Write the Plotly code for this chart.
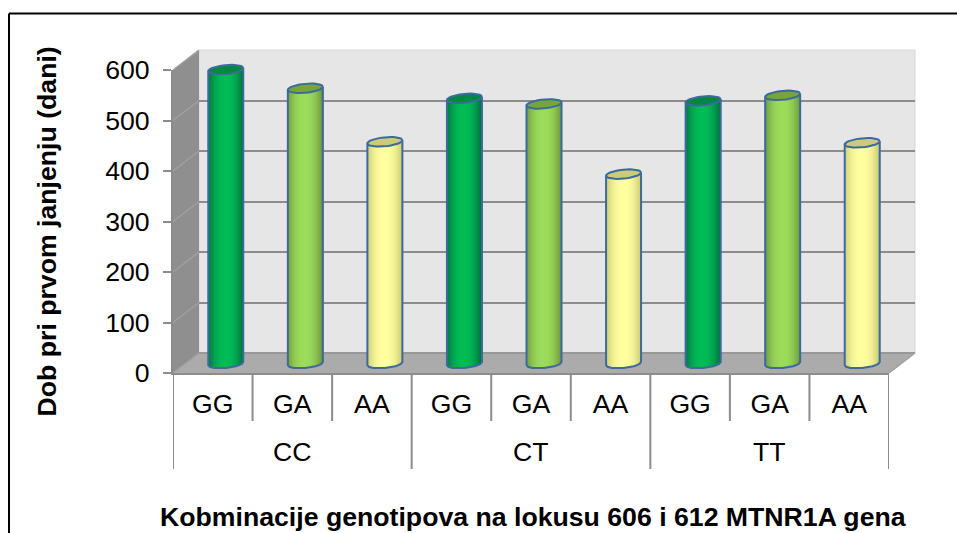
import math
import plotly.graph_objects as go

# ---- data ----
allele_606 = ["CC", "CT", "TT"]
allele_612 = ["GG", "GA", "AA"]
values_gg = [582, 525, 520]
values_ga = [545, 514, 531]
values_aa = [439, 375, 437]
y_ticks = [0, 100, 200, 300, 400, 500, 600]
x_title = "Kobminacije genotipova na lokusu 606 i 612 MTNR1A gena"
y_title = "Dob pri prvom janjenju (dani)"

# ---- styling / layout ----
W, H = 957, 533
FONT = "Liberation Sans, Arial, sans-serif"
FS = 26.67
GREY = "#8C8C8C"
BLUE = "#3C6A9C"
STYLES = [
    ("#00703E", "#00BC55", "#008A40"),
    ("#6E963E", "#9CDC5A", "#76A53A"),
    ("#C8C878", "#FFFF9F", "#CBCB78"),
]
px = lambda x: x / W
py = lambda y: 1 - y / H

FRONT_L, FRONT_R, FRONT_0 = 173, 889, 373
PX_PER_100 = 50.5
DX_BACK, DY_BACK = 26, -20
DX_MID, DY_MID = 13, -9.5
FRONT_TOP = FRONT_0 - 6 * PX_PER_100
CAT_PX = (FRONT_R - FRONT_L) / 9
RAD_PX = 17.5
ELL_H = 4.5
ELL_T = 1.6
ux = 1 / CAT_PX
uy = 100 / PX_PER_100


def hexmix(a, b, s):
    ca = [int(a[i:i + 2], 16) for i in (1, 3, 5)]
    cb = [int(b[i:i + 2], 16) for i in (1, 3, 5)]
    return "#%02x%02x%02x" % tuple(round(p + (q - p) * s) for p, q in zip(ca, cb))


fig = go.Figure()

n_groups, n_sub = len(allele_606), len(allele_612)
series_vals = [values_gg, values_ga, values_aa]
N_STRIPS = 35
strip_w = 2 * RAD_PX / N_STRIPS * ux

for s, vals in enumerate(series_vals):
    xs = [g * n_sub + s for g in range(n_groups)]
    edge, mid, top = STYLES[s]
    for k in range(N_STRIPS):
        t0 = -1 + 2 * k / N_STRIPS
        t = t0 + 1 / N_STRIPS
        shade = 1 - abs(t) ** 2.2
        drop = ELL_H * math.sqrt(max(0, 1 - t * t)) - ELL_T * t
        base = -drop * uy
        fig.add_trace(go.Bar(
            x=xs,
            y=[v + ELL_T * t * uy - base for v in vals],
            base=base,
            width=strip_w * 1.6,
            offset=t0 * RAD_PX * ux,
            marker=dict(color=hexmix(edge, mid, shade), line=dict(width=0)),
            xaxis="x2", yaxis="y2", showlegend=False, hoverinfo="skip",
        ))
    ox, oy, ex, ey = [], [], [], []
    for x0, v in zip(xs, vals):
        arc = [-1 + 2 * i / 24 for i in range(25)]
        ox += [x0 - RAD_PX * ux] + [x0 + t * RAD_PX * ux for t in arc] + [x0 + RAD_PX * ux, None]
        oy += [v - ELL_T * uy] + [-(ELL_H * math.sqrt(max(0, 1 - t * t)) - ELL_T * t) * uy for t in arc] + [v + ELL_T * uy, None]
        for i in range(37):
            a = 2 * math.pi * i / 36
            ex.append(x0 + math.cos(a) * RAD_PX * ux)
            ey.append(v + (math.sin(a) * ELL_H + math.cos(a) * ELL_T) * uy)
        ex.append(None)
        ey.append(None)
    fig.add_trace(go.Scatter(x=ox, y=oy, mode="lines", line=dict(color=BLUE, width=2),
                             xaxis="x2", yaxis="y2", showlegend=False, hoverinfo="skip"))
    fig.add_trace(go.Scatter(x=ex, y=ey, mode="lines", fill="toself", fillcolor=top,
                             line=dict(color=BLUE, width=2),
                             xaxis="x2", yaxis="y2", showlegend=False, hoverinfo="skip"))

centers = list(range(n_groups * n_sub))
fig.add_trace(go.Scatter(x=centers, y=[0] * len(centers), mode="markers", marker=dict(opacity=0),
                         xaxis="x3", yaxis="y3", showlegend=False, hoverinfo="skip"))
fig.add_trace(go.Scatter(x=centers, y=[0] * len(centers), mode="markers", marker=dict(opacity=0),
                         xaxis="x", yaxis="y", showlegend=False, hoverinfo="skip"))


def poly(points, fill, layer="below", line=None, lw=0):
    path = "M" + " L".join(f"{px(a):.5f},{py(b):.5f}" for a, b in points) + " Z"
    return dict(type="path", xref="paper", yref="paper", path=path, fillcolor=fill,
                line=dict(width=lw, color=line or fill), layer=layer)


def seg(x0, y0, x1, y1, color=GREY, w=2, layer="below"):
    return dict(type="line", xref="paper", yref="paper", x0=px(x0), y0=py(y0), x1=px(x1), y1=py(y1),
                line=dict(color=color, width=w), layer=layer)


BL, BR = FRONT_L + DX_BACK, FRONT_R + DX_BACK
B0, BT = FRONT_0 + DY_BACK, FRONT_TOP + DY_BACK
shapes = [
    poly([(BL, BT), (BR, BT), (BR, B0), (BL, B0)], "#E6E6E6", line="#D9D9D9", lw=1),
    poly([(FRONT_L, FRONT_TOP), (BL, BT), (BL, B0), (FRONT_L, FRONT_0)], "#8F8F8F"),
    poly([(FRONT_L, FRONT_0), (BL, B0), (BR, B0), (FRONT_R, FRONT_0)], "#ABABAB"),
    seg(BL, B0, BR, B0, "#989898", 2),
    seg(BR, B0, FRONT_R, FRONT_0, "#A0A0A0", 1.5),
    seg(9, 13.5, W, 13.5, "#000000", 2),
    seg(9, 13.5, 9, H, "#000000", 2),
]
for tick in y_ticks:
    yy = FRONT_0 - tick / 100 * PX_PER_100
    shapes.append(seg(FRONT_L, yy, BL, yy + DY_BACK, "#A0A0A0", 1.5))

for i in range(n_groups * n_sub + 1):
    bottom = 469 if i % n_sub == 0 else 421
    shapes.append(dict(type="line", xref="x3", yref="paper", x0=i - 0.5, x1=i - 0.5,
                       y0=py(FRONT_0), y1=py(bottom), line=dict(color=GREY, width=2), layer="above"))

annotations = [
    dict(x=g * n_sub + (n_sub - 1) / 2, y=py(452), xref="x3", yref="paper", text=name, showarrow=False,
         font=dict(family=FONT, size=FS, color="#000000"), xanchor="center", yanchor="middle")
    for g, name in enumerate(allele_606)
]
annotations += [
    dict(x=px(533), y=py(517), xref="paper", yref="paper", text=f"<b>{x_title}</b>", showarrow=False,
         font=dict(family=FONT, size=FS, color="#000000"), xanchor="center", yanchor="middle"),
    dict(x=px(47), y=py(231.5), xref="paper", yref="paper", text=f"<b>{y_title}</b>", showarrow=False,
         textangle=-90, font=dict(family=FONT, size=FS, color="#000000"), xanchor="center", yanchor="middle"),
]

x_range = [-0.5, n_groups * n_sub - 0.5]
hidden = dict(showline=False, zeroline=False, showticklabels=False, ticks="", showgrid=False, automargin=False)

mid_lo, mid_hi = -20, 640
mid_0 = FRONT_0 + DY_MID
fig.update_layout(
    width=W, height=H,
    margin=dict(l=0, r=0, t=0, b=0),
    paper_bgcolor="#FFFFFF", plot_bgcolor="rgba(0,0,0,0)",
    barmode="overlay", showlegend=False,
    shapes=shapes, annotations=annotations,
    xaxis=dict(domain=[px(BL), px(BR)], range=x_range, anchor="y", **hidden),
    yaxis=dict(domain=[py(B0), py(BT)], range=[0, 600], anchor="x", tickvals=y_ticks, automargin=False,
               showgrid=True, gridcolor=GREY, gridwidth=2, showline=False, zeroline=False,
               showticklabels=False, ticks=""),
    xaxis2=dict(domain=[px(FRONT_L + DX_MID), px(FRONT_R + DX_MID)], range=x_range, anchor="y2", **hidden),
    yaxis2=dict(domain=[py(mid_0 - mid_lo / 100 * PX_PER_100), py(mid_0 - mid_hi / 100 * PX_PER_100)],
                range=[mid_lo, mid_hi], anchor="x2", **hidden),
    xaxis3=dict(domain=[px(FRONT_L), px(FRONT_R)], range=x_range, anchor="y3", automargin=False,
                tickmode="array", tickvals=centers, ticktext=allele_612 * n_groups,
                ticks="", ticklen=0, ticklabelstandoff=6, showgrid=False, zeroline=False,
                showline=True, linecolor=GREY, linewidth=2,
                tickfont=dict(family=FONT, size=FS, color="#000000")),
    yaxis3=dict(domain=[py(FRONT_0), py(FRONT_TOP)], range=[0, 600], anchor="x3", automargin=False,
                tickmode="array", tickvals=y_ticks, ticks="outside", ticklen=8, tickwidth=2,
                tickcolor=GREY, showgrid=False, zeroline=False, showline=True, linecolor=GREY, linewidth=2,
                ticklabelstandoff=8,
                tickfont=dict(family=FONT, size=FS, color="#000000")),
)

fig.write_html("out.html", config=dict(displayModeBar=False),
               post_script="document.body.style.margin='0';")
